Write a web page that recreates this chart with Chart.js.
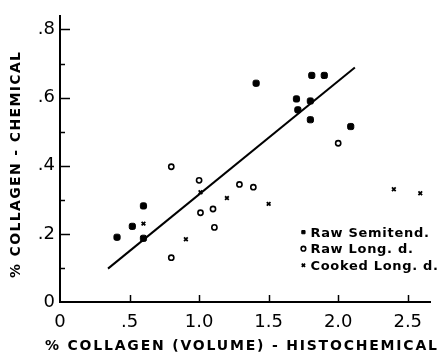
<!DOCTYPE html>
<html>
<head>
<meta charset="utf-8">
<script src="https://cdn.jsdelivr.net/npm/chart.js@4"></script>
<style>
  html, body { margin: 0; padding: 0; background: #fff; }
  #wrap { width: 444px; height: 357px; }
</style>
</head>
<body>
<div id="wrap"><canvas id="chart" width="444" height="357"></canvas></div>
<script>
// values
const semitendX = [1.41, 1.81, 1.90, 1.70, 1.80, 1.71, 1.80, 2.09, 0.60, 0.41, 0.52, 0.60];
const semitendY = [0.642, 0.665, 0.665, 0.596, 0.590, 0.564, 0.535, 0.515, 0.282, 0.190, 0.222, 0.187];

const longRawX = [0.80, 1.00, 1.01, 1.10, 1.11, 0.80, 2.00, 1.39, 1.29];
const longRawY = [0.397, 0.357, 0.262, 0.273, 0.219, 0.130, 0.466, 0.337, 0.345];

const longCookedX = [1.01, 1.20, 1.50, 0.905, 0.60, 2.40, 2.59];
const longCookedY = [0.322, 0.305, 0.288, 0.184, 0.230, 0.331, 0.319];

// regression line end points
const fitX = [0.345, 2.12];
const fitY = [0.098, 0.688];

const seriesNames = ['Raw Semitend.', 'Raw Long. d.', 'Cooked Long. d.'];
const legendMarks = ['rect', 'circle', 'crossRot'];
const xTitle = '% COLLAGEN (VOLUME) - HISTOCHEMICAL';
const yTitle = '% COLLAGEN - CHEMICAL';

const pts = (xs, ys) => xs.map((x, i) => ({ x, y: ys[i] }));

const fmt = (v) => {
  if (Math.abs(v) < 1e-9) return '0';
  const s = v.toFixed(1);
  return v < 1 ? s.replace(/^0/, '') : s;
};

// small ticks pointing into the plot, like the original
const inwardTicks = {
  id: 'inwardTicks',
  afterDraw(chart) {
    const { ctx, chartArea, scales: { x, y } } = chart;
    ctx.save();
    ctx.strokeStyle = '#000';
    ctx.lineWidth = 1.5;
    for (let i = 1; i <= 8; i++) {
      const py = Math.round(y.getPixelForValue(i / 10)) + 0.5;
      const len = i % 2 === 0 ? 10 : 5;
      ctx.beginPath();
      ctx.moveTo(chartArea.left, py);
      ctx.lineTo(chartArea.left + len, py);
      ctx.stroke();
    }
    for (let i = 1; i <= 5; i++) {
      const px = Math.round(x.getPixelForValue(i / 2)) + 0.5;
      ctx.beginPath();
      ctx.moveTo(px, chartArea.bottom);
      ctx.lineTo(px, chartArea.bottom - 7);
      ctx.stroke();
    }
    ctx.restore();
  }
};

// spaced bold text drawn to a given width
const spacedText = (ctx, text, cx, cy, width) => {
  ctx.letterSpacing = '0px';
  const w = ctx.measureText(text).width;
  const sp = Math.max(0, (width - w) / (text.length - 1));
  ctx.letterSpacing = sp + 'px';
  ctx.fillText(text, cx + sp / 2, cy);
  ctx.letterSpacing = '0px';
};

const titles = {
  id: 'titles',
  afterDraw(chart) {
    const { ctx } = chart;
    ctx.save();
    ctx.fillStyle = '#000';
    ctx.font = 'bold 14px "DejaVu Sans"';
    ctx.textAlign = 'center';
    ctx.textBaseline = 'middle';
    spacedText(ctx, xTitle, 241, 346, 392);
    ctx.translate(16, 165);
    ctx.rotate(-Math.PI / 2);
    spacedText(ctx, yTitle, 0, 0, 226);
    ctx.restore();
  }
};

// legend inside the plot, lower right
const innerLegend = {
  id: 'innerLegend',
  afterDraw(chart) {
    const { ctx, scales: { x, y } } = chart;
    ctx.save();
    ctx.font = 'bold 13px "DejaVu Sans"';
    ctx.textBaseline = 'middle';
    const left = x.getPixelForValue(1.75);
    let top = y.getPixelForValue(0.205);
    chart.data.datasets.slice(0, 3).forEach((ds, i) => {
      ctx.fillStyle = ds.pointBackgroundColor;
      ctx.strokeStyle = '#000';
      ctx.lineWidth = ds.pointBorderWidth;
      Chart.helpers.drawPoint(ctx, { pointStyle: legendMarks[i], radius: 2.3, borderWidth: ds.pointBorderWidth }, left, top);
      ctx.fillStyle = '#000';
      ctx.letterSpacing = '0.7px';
      ctx.fillText(ds.label, left + 7, top + 1);
      top += 16.5;
    });
    ctx.restore();
  }
};

new Chart(document.getElementById('chart'), {
  type: 'scatter',
  data: {
    datasets: [
      {
        label: seriesNames[0],
        data: pts(semitendX, semitendY),
        pointStyle: 'rectRounded',
        pointRadius: 3.6,
        pointBackgroundColor: '#000',
        pointBorderColor: '#000',
        pointBorderWidth: 1
      },
      {
        label: seriesNames[1],
        data: pts(longRawX, longRawY),
        pointStyle: 'circle',
        pointRadius: 2.6,
        pointBackgroundColor: '#fff',
        pointBorderColor: '#000',
        pointBorderWidth: 1.6
      },
      {
        label: seriesNames[2],
        data: pts(longCookedX, longCookedY),
        pointStyle: 'crossRot',
        pointRadius: 2.6,
        pointBackgroundColor: '#000',
        pointBorderColor: '#000',
        pointBorderWidth: 1.8
      },
      {
        type: 'line',
        label: 'fit',
        data: pts(fitX, fitY),
        borderColor: '#000',
        borderWidth: 2,
        pointRadius: 0,
        fill: false
      }
    ]
  },
  options: {
    responsive: false,
    devicePixelRatio: 1,
    animation: false,
    layout: { padding: { top: 10, right: 14, left: 0, bottom: 0 } },
    plugins: {
      legend: { display: false },
      tooltip: { enabled: false }
    },
    scales: {
      x: {
        type: 'linear',
        min: 0,
        max: 2.66,
        afterFit: (s) => { s.height = 55; },
        grid: { display: true, drawOnChartArea: false, drawTicks: false },
        border: { display: true, color: '#000', width: 2 },
        ticks: {
          stepSize: 0.5,
          includeBounds: false,
          padding: 10,
          color: '#000',
          font: { family: 'DejaVu Sans', size: 18 },
          callback: (v) => fmt(v)
        }
      },
      y: {
        type: 'linear',
        min: 0,
        max: 0.84,
        afterFit: (s) => { s.width = 60; },
        grid: { display: true, drawOnChartArea: false, drawTicks: false },
        border: { display: true, color: '#000', width: 2 },
        ticks: {
          stepSize: 0.2,
          includeBounds: false,
          padding: 5,
          color: '#000',
          font: { family: 'DejaVu Sans', size: 18 },
          callback: (v) => fmt(v)
        }
      }
    }
  },
  plugins: [inwardTicks, titles, innerLegend]
});
</script>
</body>
</html>
